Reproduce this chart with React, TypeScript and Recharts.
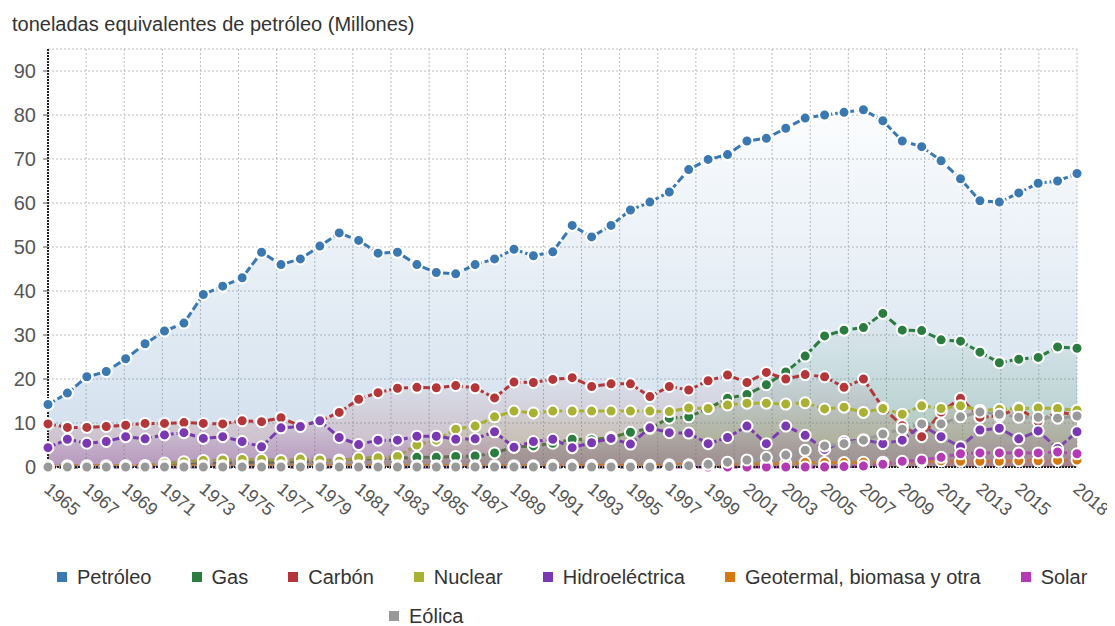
import { ComposedChart, Area, XAxis, YAxis, CartesianGrid } from "recharts";

const years = [
  1965, 1966, 1967, 1968, 1969, 1970, 1971, 1972, 1973, 1974, 1975, 1976, 1977, 1978,
  1979, 1980, 1981, 1982, 1983, 1984, 1985, 1986, 1987, 1988, 1989, 1990, 1991, 1992,
  1993, 1994, 1995, 1996, 1997, 1998, 1999, 2000, 2001, 2002, 2003, 2004, 2005, 2006,
  2007, 2008, 2009, 2010, 2011, 2012, 2013, 2014, 2015, 2016, 2017, 2018,
];

const petroleo = [
  14.2, 16.8, 20.5, 21.7, 24.6, 28.0, 30.9, 32.7, 39.2, 41.1, 43.0, 48.8, 46.0, 47.3,
  50.2, 53.2, 51.5, 48.6, 48.8, 46.0, 44.2, 43.9, 46.0, 47.3, 49.5, 48.0, 48.9, 54.9,
  52.3, 54.9, 58.4, 60.2, 62.5, 67.6, 69.9, 71.0, 74.1, 74.7, 77.0, 79.3, 80.0, 80.6,
  81.2, 78.7, 74.1, 72.8, 69.6, 65.5, 60.5, 60.2, 62.3, 64.5, 65.0, 66.7,
];

const gas = [
  0, 0, 0, 0, 0.1, 0.2, 0.4, 0.6, 0.8, 0.9, 1.0, 1.1, 1.1, 1.2,
  1.4, 1.6, 1.8, 1.9, 2.0, 2.2, 2.2, 2.4, 2.5, 3.2, 4.5, 4.8, 5.4, 6.3,
  6.2, 6.7, 7.9, 8.8, 11.1, 11.4, 13.3, 15.6, 16.5, 18.7, 21.6, 25.2, 29.8, 31.1,
  31.7, 34.9, 31.1, 31.0, 28.9, 28.6, 26.1, 23.7, 24.5, 24.9, 27.3, 27.0,
];

const carbon = [
  9.8, 9.0, 9.0, 9.2, 9.5, 9.9, 9.9, 10.1, 9.9, 9.8, 10.5, 10.3, 11.2, 9.3,
  10.5, 12.4, 15.4, 16.9, 17.9, 18.1, 18.0, 18.5, 18.0, 15.7, 19.3, 19.2, 19.9, 20.3,
  18.3, 18.9, 18.9, 16.0, 18.3, 17.5, 19.6, 20.9, 19.2, 21.5, 20.0, 21.0, 20.5, 18.1,
  20.0, 13.5, 9.4, 6.9, 12.5, 15.6, 11.3, 11.6, 13.4, 10.4, 12.5, 11.8,
];

const nuclear = [
  0, 0, 0, 0.1, 0.2, 0.3, 0.9, 1.2, 1.5, 1.6, 1.7, 1.7, 1.5, 1.8,
  1.6, 1.3, 2.1, 2.1, 2.4, 5.0, 6.1, 8.6, 9.3, 11.4, 12.7, 12.3, 12.7, 12.7,
  12.7, 12.7, 12.7, 12.7, 12.6, 13.4, 13.3, 14.1, 14.5, 14.5, 14.3, 14.6, 13.2, 13.6,
  12.4, 13.3, 12.0, 13.9, 13.3, 13.9, 12.9, 13.1, 13.3, 13.4, 13.3, 12.9,
];

const hidro = [
  4.4, 6.3, 5.4, 5.8, 6.9, 6.4, 7.3, 7.8, 6.5, 6.9, 5.8, 4.6, 8.9, 9.2,
  10.5, 6.7, 5.1, 6.1, 6.1, 7.0, 7.0, 6.3, 6.4, 8.0, 4.5, 5.8, 6.3, 4.4,
  5.5, 6.5, 5.2, 8.9, 7.8, 7.7, 5.3, 6.7, 9.3, 5.3, 9.3, 7.2, 4.0, 5.8,
  6.2, 5.3, 6.1, 9.5, 6.9, 4.6, 8.4, 8.8, 6.4, 8.2, 4.2, 8.0,
];

const geotermal = [
  0.3, 0.3, 0.3, 0.3, 0.3, 0.3, 0.3, 0.3, 0.3, 0.3, 0.3, 0.3, 0.3, 0.3,
  0.3, 0.3, 0.3, 0.3, 0.3, 0.3, 0.3, 0.3, 0.3, 0.3, 0.3, 0.3, 0.4, 0.4,
  0.4, 0.4, 0.4, 0.4, 0.5, 0.5, 0.5, 0.6, 0.6, 0.7, 0.8, 1.0, 1.0, 1.0,
  1.1, 1.1, 1.1, 1.2, 1.4, 1.3, 1.3, 1.3, 1.4, 1.4, 1.5, 1.6,
];

const solar = [
  0, 0, 0, 0, 0, 0, 0, 0, 0, 0, 0, 0, 0, 0,
  0, 0, 0, 0, 0, 0, 0, 0, 0, 0, 0, 0, 0, 0,
  0, 0, 0, 0, 0, 0, 0, 0, 0, 0, 0, 0, 0, 0.1,
  0.2, 0.6, 1.3, 1.6, 2.2, 3.0, 3.2, 3.2, 3.2, 3.2, 3.4, 3.0,
];

const eolica = [
  0, 0, 0, 0, 0, 0, 0, 0, 0, 0, 0, 0, 0, 0,
  0, 0, 0, 0, 0, 0, 0, 0, 0, 0, 0, 0, 0, 0,
  0, 0, 0, 0, 0.1, 0.3, 0.6, 1.1, 1.6, 2.2, 2.7, 3.8, 4.8, 5.3,
  6.1, 7.5, 8.6, 9.8, 9.8, 11.4, 12.5, 12.0, 11.3, 11.3, 11.1, 11.6,
];

const xTicks = [
  1965, 1967, 1969, 1971, 1973, 1975, 1977, 1979, 1981, 1983, 1985, 1987, 1989,
  1991, 1993, 1995, 1997, 1999, 2001, 2003, 2005, 2007, 2009, 2011, 2013, 2015, 2018,
];
const yTicks = [0, 10, 20, 30, 40, 50, 60, 70, 80, 90];

const series = [
  { key: "petroleo", name: "Petróleo", color: "#3a78b2", values: petroleo },
  { key: "gas", name: "Gas", color: "#2b7d3f", values: gas },
  { key: "carbon", name: "Carbón", color: "#b53638", values: carbon },
  { key: "nuclear", name: "Nuclear", color: "#a8b132", values: nuclear },
  { key: "hidro", name: "Hidroeléctrica", color: "#7b38b3", values: hidro },
  { key: "geotermal", name: "Geotermal, biomasa y otra", color: "#d4780f", values: geotermal },
  { key: "solar", name: "Solar", color: "#b33ab4", values: solar },
  { key: "eolica", name: "Eólica", color: "#999999", values: eolica },
];

const data = years.map((year, i) => {
  const row: Record<string, number> = { year };
  series.forEach((s) => {
    row[s.key] = s.values[i];
  });
  return row;
});

const FONT = '"Liberation Sans", Arial, sans-serif';

function YearTick({ x, y, payload }: any) {
  const tx = x - 5;
  const ty = y + 16;
  return (
    <text x={tx} y={ty} transform={`rotate(40 ${tx} ${ty})`} fontSize={18} fill="#555" textAnchor="start">
      {payload.value}
    </text>
  );
}

export default function App() {
  return (
    <div style={{ position: "relative", width: 1107, height: 618, fontFamily: FONT }}>
      <div
        style={{
          position: "absolute",
          left: 4,
          top: 4,
          fontSize: 20,
          lineHeight: "24px",
          color: "#333",
          whiteSpace: "nowrap",
        }}
      >
        toneladas equivalentes de petróleo (Millones)
      </div>

      <div style={{ position: "absolute", left: 0, top: 0 }}>
        <ComposedChart
          width={1107}
          height={530}
          data={data}
          style={{ overflow: "visible" }}
          margin={{ top: 41, right: 38, left: 0, bottom: 0 }}
        >
          <defs>
            {series.map((s) => (
              <linearGradient key={s.key} id={`grad-${s.key}`} x1="0" y1="0" x2="0" y2="1">
                <stop offset="0%" stopColor={s.color} stopOpacity={0.02} />
                <stop offset="100%" stopColor={s.color} stopOpacity={0.24} />
              </linearGradient>
            ))}
          </defs>
          <CartesianGrid
            stroke="#bdbdbd"
            strokeDasharray="2 2"
            verticalCoordinatesGenerator={({ offset }: any) =>
              Array.from({ length: 27 }, (_, i) => offset.left + ((i + 1) * offset.width) / 27)
            }
          />
          <XAxis
            dataKey="year"
            type="number"
            domain={[1965, 2018]}
            ticks={xTicks}
            interval={0}
            height={71}
            tick={<YearTick />}
            tickLine={false}
            axisLine={{ stroke: "#222", strokeWidth: 2, strokeDasharray: "2 1" }}
          />
          <YAxis
            type="number"
            domain={[0, 95]}
            ticks={yTicks}
            width={40}
            interval={0}
            tickSize={5}
            tickMargin={7}
            tick={{ fontSize: 20, fill: "#555" }}
            tickLine={{ stroke: "#555" }}
            axisLine={{ stroke: "#222", strokeWidth: 2, strokeDasharray: "2 1" }}
          />
          {series.map((s) => (
            <Area
              key={s.key}
              type="linear"
              dataKey={s.key}
              name={s.name}
              stroke={s.color}
              strokeWidth={3}
              strokeDasharray="8 3"
              fill={`url(#grad-${s.key})`}
              fillOpacity={1}
              dot={{ r: 5.5, fill: s.color, stroke: "#fff", strokeWidth: 2, strokeDasharray: "0" }}
              activeDot={false}
              isAnimationActive={false}
            />
          ))}
        </ComposedChart>
      </div>

      <div
        style={{
          position: "absolute",
          left: 49,
          top: 557,
          width: 1060,
          fontSize: 20,
          lineHeight: "24px",
          color: "#333",
        }}
      >
        <div style={{ display: "flex", whiteSpace: "nowrap" }}>
          {series.slice(0, 7).map((s) => (
            <div key={s.key} style={{ display: "flex", alignItems: "center", marginRight: 40 }}>
              <span style={{ display: "inline-block", width: 10, height: 10, background: s.color, marginRight: 10 }} />
              <span>{s.name}</span>
            </div>
          ))}
        </div>
        <div style={{ display: "flex", whiteSpace: "nowrap", marginTop: 15, paddingLeft: 332 }}>
          {series.slice(7).map((s) => (
            <div key={s.key} style={{ display: "flex", alignItems: "center" }}>
              <span style={{ display: "inline-block", width: 10, height: 10, background: s.color, marginRight: 10 }} />
              <span>{s.name}</span>
            </div>
          ))}
        </div>
      </div>
    </div>
  );
}
